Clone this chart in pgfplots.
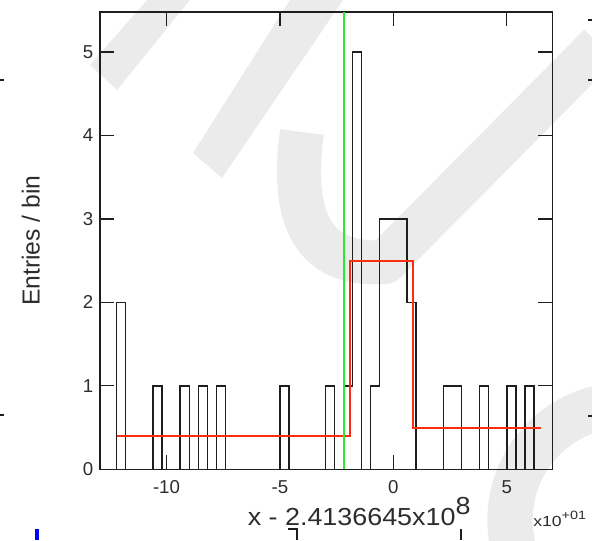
\documentclass[border=0pt]{standalone}
\usepackage{graphicx}
\usepackage{pgfplots}
\pgfplotsset{compat=1.18}
\usepackage{fontspec}
\setmainfont{Liberation Sans}

\definecolor{fitred}{RGB}{255,45,15}
\definecolor{refgreen}{RGB}{50,230,50}
\definecolor{wm}{RGB}{235,235,235}
\definecolor{ink}{RGB}{30,30,30}
\definecolor{lbl}{RGB}{45,45,45}

% pixel frame: origin at the top-left corner of the page, y pointing down
\tikzset{px/.style={x=0.75pt,y=-0.75pt,shift={(-100,-469.3)}}}

% histogram outline: lower bin edge and entries (bin width 0.4)
\pgfplotstableread{
x      n
-12.2  0
-12.2  2
-11.8  0
-10.6  1
-10.2  0
-9.4   1
-9.0   0
-8.6   1
-8.2   0
-7.8   1
-7.4   0
-5.0   1
-4.6   0
-3.0   1
-2.6   0
-2.2   1
-1.8   5
-1.4   0
-1.0   1
-0.6   3
 0.6   2
 1.0   0
 2.2   1
 3.0   0
 3.8   1
 4.2   0
 5.0   1
 5.4   0
 5.8   1
 6.2   0
}\histdata

\begin{document}
\begin{tikzpicture}
% faint background stamp
\begin{scope}[px]
  \clip (0,0) rectangle (592,540);
  \fill[wm] (90,65) -- (147,0) -- (190,0) -- (117,90) -- cycle;
  \fill[wm] (193,153) -- (290,0) -- (343,0) -- (222,178) -- cycle;
  \draw[wm, line width=33pt, line cap=butt, line join=round]
    (302,132) .. controls (288,235) and (325,266) .. (385,262) -- (600,45);
  \draw[wm, line width=34pt] (625,520) circle[radius=115];
\end{scope}

\begin{axis}[
  at={(0,0)}, anchor=south west,
  scale only axis, width=339.2pt, height=343pt,
  xmin=-12.93, xmax=7.0, ymin=0, ymax=5.48,
  xtick={-10,-5,0,5}, ytick={0,1,2,3,4,5},
  minor tick num=0,
  tick align=inside,
  major tick length=10.5pt,
  tick style={ink, line width=0.9pt},
  axis line style={ink, line width=0.9pt},
  /pgf/number format/assume math mode=true,
  ticklabel style={font=\fontsize{14}{16}\selectfont, text=lbl},
  xticklabel style={yshift=-5pt},
  yticklabel style={xshift=-1.5pt},
  xlabel={\scalebox{1.09}[1]{x - 2.4136645x10\raisebox{0.42em}{8}}},
  ylabel={Entries / bin},
  xlabel style={at={(axis description cs:0.573,0)}, anchor=base,
    yshift=-41.8pt, font=\fontsize{18.5}{22}\selectfont, text=lbl},
  ylabel style={at={(axis description cs:-0.153,0.5)}, anchor=center,
    font=\fontsize{18.5}{22}\selectfont, text=lbl},
]
  \addplot[ink, line width=1pt, const plot, mark=none] table[x=x, y=n] {\histdata};
  % block fit levels
  \addplot[fitred, line width=1.4pt, const plot, mark=none]
    coordinates {(-12.2,0.4) (-1.9,2.5) (0.88,0.5) (6.5,0.5)};
  \addplot[refgreen, line width=1.3pt, mark=none] coordinates {(-2.17,0) (-2.17,5.48)};
\end{axis}

% axis multiplier and stray frame marks
\begin{scope}[px]
  \node[anchor=base west, inner sep=0pt, text=lbl, font=\fontsize{11}{12}\selectfont]
    at (533,526) {\scalebox{1.2}[1]{x10\raisebox{0.45em}{\fontsize{9}{10}\selectfont +01}}};
  \draw[ink, line width=0.9pt] (0,80) -- (4,80) (0,415) -- (4,415);
  \draw[ink, line width=0.9pt] (588,20) -- (592,20) (588,80) -- (592,80) (588,416) -- (592,416);
  \draw[blue, line width=2.5pt] (37,529) -- (37,540);
  \draw[ink, line width=0.9pt] (288,529) -- (297,529) -- (297,540);
  \draw[ink, line width=0.9pt] (461,529) -- (461,540);
\end{scope}

\pgfresetboundingbox
\path[use as bounding box, px] (0,0) rectangle (592,540);
\end{tikzpicture}
\end{document}
